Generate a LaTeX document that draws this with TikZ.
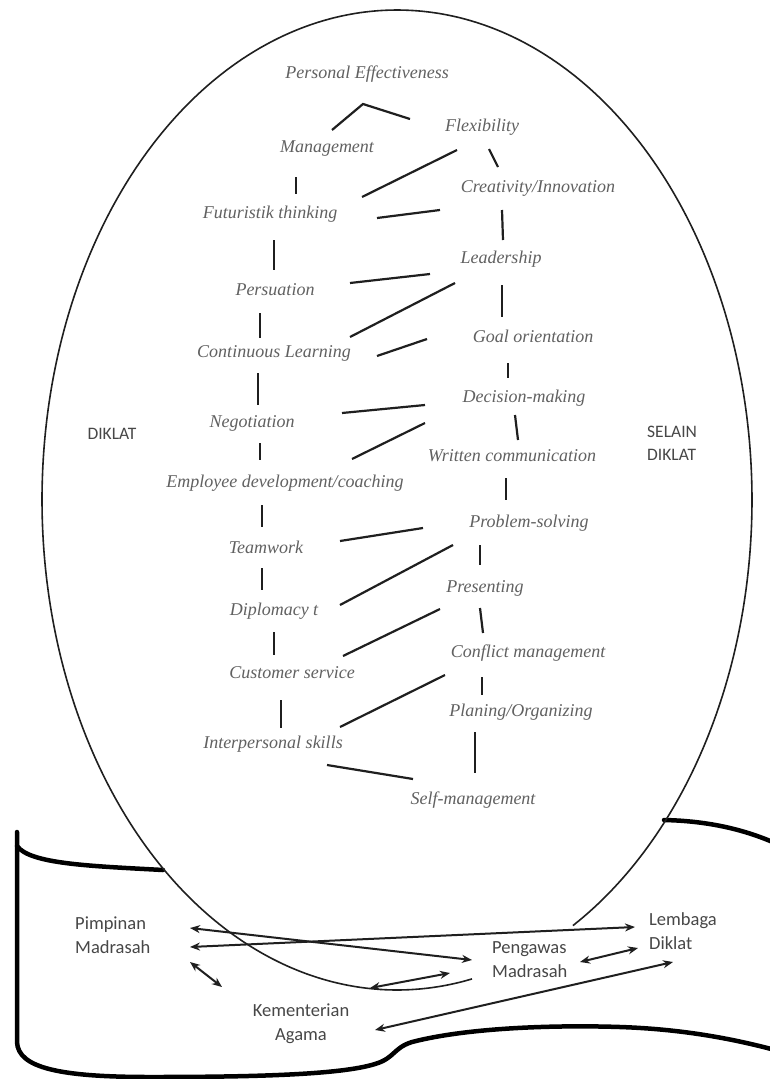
\documentclass[tikz,border=0pt]{standalone}
\usepackage{fontspec}
\setmainfont{Liberation Serif}
\newfontfamily\calfont{Carlito}
\usetikzlibrary{arrows.meta}
\begin{document}
\begin{tikzpicture}[x=1pt,y=-1pt,
  lbl/.style={inner sep=0pt,anchor=base,text=black!62,font=\fontsize{18}{22}\selectfont\itshape},
  sans/.style={inner sep=0pt,text=black!72,font=\calfont\fontsize{18.5}{24}\selectfont},
  con/.style={line width=2.2pt,draw=black!88},
  ell/.style={line width=1.6pt,draw=black!88},
  banner/.style={line width=4.5pt,draw=black,line cap=round},
  arr/.style={line width=2pt,draw=black!88,{Stealth[length=10pt,width=8pt]}-{Stealth[length=10pt,width=8pt]}}]
\useasboundingbox (0,0) rectangle (770,1079);
\fill[white] (0,0) rectangle (770,1079);

% banner
\draw[banner] (17,832) -- (17,1042) .. controls (18,1068) and (60,1077) .. (150,1077)
  .. controls (250,1077) and (340,1075) .. (375,1064)
  .. controls (395,1058) and (393,1048) .. (412,1042)
  .. controls (470,1027) and (560,1025) .. (620,1027)
  .. controls (680,1029) and (730,1038) .. (775,1050);
\draw[banner] (17,846) .. controls (30,864) and (90,866) .. (163,870);
\draw[banner] (664,820) .. controls (710,821) and (745,830) .. (775,843);

% ellipse
\draw[ell] plot[domain=77.8:420.3,samples=240,smooth] ({397+355*cos(\x)},{500+490*sin(\x)});

% labels in ellipse
\node[lbl] (pe) at (367,78) {Personal Effectiveness};
\node[lbl] (mg) at (327,152) {Management};
\node[lbl] (fl) at (482,131) {Flexibility};
\node[lbl] (cr) at (538,192) {Creativity/Innovation};
\node[lbl] (ft) at (270,218) {Futuristik thinking};
\node[lbl] (ld) at (501,263) {Leadership};
\node[lbl] (ps) at (275,295) {Persuation};
\node[lbl] (go) at (533,342) {Goal orientation};
\node[lbl] (cl) at (274,357) {Continuous Learning};
\node[lbl] (dm) at (524,402) {Decision-making};
\node[lbl] (ng) at (252,427) {Negotiation};
\node[lbl] (wc) at (512,461) {Written communication};
\node[lbl] (ed) at (285,487) {Employee development/coaching};
\node[lbl] (pb) at (529,527) {Problem-solving};
\node[lbl] (tw) at (266,553) {Teamwork};
\node[lbl] (pr) at (485,592) {Presenting};
\node[lbl] (dp) at (274,615) {Diplomacy t};
\node[lbl] (cm) at (528,657) {Conflict management};
\node[lbl] (cs) at (292,678) {Customer service};
\node[lbl] (po) at (521,716) {Planing/Organizing};
\node[lbl] (ip) at (273,748) {Interpersonal skills};
\node[lbl] (sm) at (473,804) {Self-management};

% side labels
\node[sans,anchor=base,font=\calfont\fontsize{17.5}{23}\selectfont] (dk) at (112,439) {DIKLAT};
\node[sans,anchor=west,align=left,font=\calfont\fontsize{17.5}{23}\selectfont] (sd) at (647,443) {SELAIN\\DIKLAT};

% bottom labels
\node[sans,anchor=west,align=left] (pim) at (75,935) {Pimpinan\\Madrasah};
\node[sans,align=center] (kem) at (301,1024) {Kementerian\\Agama};
\node[sans,anchor=west,align=left] (pen) at (492,960) {Pengawas\\Madrasah};
\node[sans,anchor=west,align=left] (lem) at (649,931) {Lembaga\\Diklat};

% connector end points
\foreach \n/\px/\py in {
  a1/332/130, a2/363/104, a3/410/119,
  b1/457/150, b2/362/197,
  c1/489/149, c2/498/167,
  d1/296/177, d2/296/194,
  e1/440/210, e2/377/218,
  f1/502/210, f2/503/240,
  g1/274/240, g2/274/270,
  h1/350/283, h2/430/274,
  i1/350/337, i2/455/283,
  j1/377/356, j2/427/339,
  k1/502/285, k2/502/317,
  l1/260/313, l2/260/338,
  m1/258/373, m2/258/405,
  n1/508/363, n2/508/378,
  o1/342/413, o2/425/405,
  p1/352/459, p2/425/423,
  q1/515/415, q2/518/440,
  r1/260/443, r2/260/460,
  s1/506/478, s2/506/500,
  t1/262/505, t2/262/527,
  u1/340/541, u2/423/528,
  v1/340/605, v2/453/545,
  w1/480/545, w2/480/565,
  x1/262/568, x2/262/590,
  y1/343/656, y2/440/609,
  z1/480/608, z2/483/633,
  aa1/274/632, aa2/274/655,
  ab1/340/727, ab2/445/675,
  ac1/482/677, ac2/482/695,
  ad1/281/700, ad2/281/728,
  ae1/475/732, ae2/475/773,
  af1/327/765, af2/413/779,
  pm1/190/928, pg1/472/960,
  pm2/190/947, lb1/635/927,
  pm3/190/962, km1/222/987,
  km2/370/988, pg2/450/973,
  pg3/580/962, lb2/638/948,
  km3/375/1030, lb3/673/962}
  \coordinate (\n) at (\px,\py);

% connectors
\draw[con] (a1) -- (a2) -- (a3);
\foreach \s in {b,c,d,e,f,g,h,i,j,k,l,m,n,o,p,q,r,s,t,u,v,w,x,y,z,aa,ab,ac,ad,ae,af}
  \draw[con] (\s1) -- (\s2);

% bottom arrows
\draw[arr] (pm1) -- (pg1);
\draw[arr] (pm2) -- (lb1);
\draw[arr] (pm3) -- (km1);
\draw[arr] (km2) -- (pg2);
\draw[arr] (pg3) -- (lb2);
\draw[arr] (km3) -- (lb3);
\end{tikzpicture}
\end{document}
